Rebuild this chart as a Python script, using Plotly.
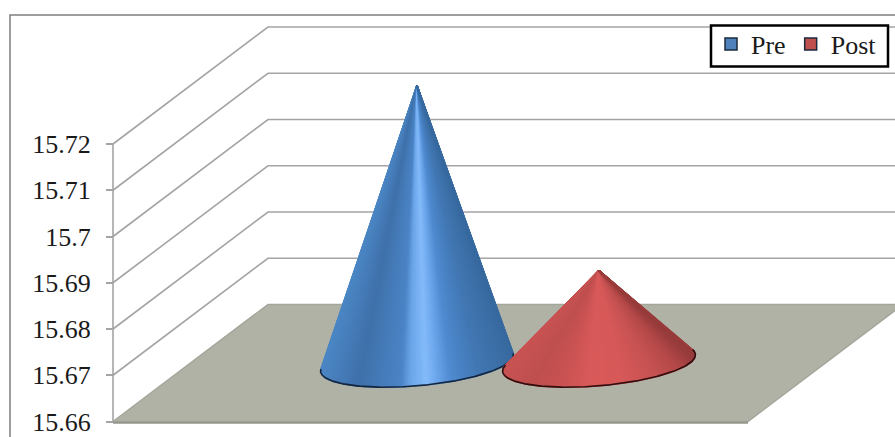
import math
import plotly.graph_objects as go

# ---- data ----
SERIES = ["Pre", "Post"]
VALUES = [15.72, 15.68]
TICK_VALUES = [15.66, 15.67, 15.68, 15.69, 15.70, 15.71, 15.72]
TICK_LABELS = ["15.66", "15.67", "15.68", "15.69", "15.7", "15.71", "15.72"]

# ---- geometry of the oblique 3-D box (x in chart units, depth in value units) ----
W, H = 895, 437
V0 = 15.66
PX_PER_UNIT = 46.25 / 0.01
Y0_PX = 421.5
AX_X = 113
FRONT_W = 635
DEPTH_X = 155
DEPTH_V = 117 / PX_PER_UNIT
FLOOR_MID_X = AX_X + FRONT_W / 2 + DEPTH_X / 2
CONE_OFFSET = 91
CONE_A = 91
CONE_B = 0.207
V_BOTTOM = V0 - (H - Y0_PX) / PX_PER_UNIT
V_TOP = V_BOTTOM + H / PX_PER_UNIT

GRID = "#a4a4a4"
BLUE = [(0, "#4b86c4"), (.12, "#4479b5"), (.2, "#3f71aa"), (.42, "#4b84c6"), (.47, "#6ba6ea"),
        (.55, "#84bbfa"), (.6, "#6fa9ee"), (.68, "#4f8ad0"), (.82, "#4278b4"), (1, "#386a9f")]
RED = [(0, "#c85353"), (.15, "#bf4f4f"), (.3, "#c95252"), (.45, "#d95a5a"), (.62, "#d85959"),
       (.8, "#c65252"), (.92, "#b44848"), (1, "#963a3a")]
RIMS = ["#14263e", "#300e0e"]


def shade(stops, u):
    for (a, ca), (b, cb) in zip(stops, stops[1:]):
        if u <= b:
            f = (u - a) / (b - a)
            rgb = [round(int(ca[i:i + 2], 16) * (1 - f) + int(cb[i:i + 2], 16) * f) for i in (1, 3, 5)]
            return "rgb(%d,%d,%d)" % tuple(rgb)
    return stops[-1][1]


fig = go.Figure()

# wall grid lines
for v in TICK_VALUES[1:]:
    fig.add_trace(go.Scatter(x=[AX_X, AX_X + DEPTH_X, W + 10], y=[v, v + DEPTH_V, v + DEPTH_V], mode="lines",
                             line=dict(color=GRID, width=1.6), showlegend=False, hoverinfo="skip"))
# floor
fig.add_trace(go.Scatter(
    x=[AX_X, AX_X + DEPTH_X, AX_X + DEPTH_X + FRONT_W, AX_X + FRONT_W, AX_X],
    y=[V0, V0 + DEPTH_V, V0 + DEPTH_V, V0, V0], mode="lines", fill="toself", fillcolor="#b1b2a6",
    line=dict(color="#a5a69b", width=1.5), showlegend=False, hoverinfo="skip"))
fig.add_trace(go.Scatter(x=[AX_X, AX_X + FRONT_W], y=[V0 - 1.2 / PX_PER_UNIT] * 2, mode="lines",
                         line=dict(color="#96968c", width=2), showlegend=False, hoverinfo="skip"))
# value axis line
fig.add_trace(go.Scatter(x=[AX_X, AX_X], y=[TICK_VALUES[0], TICK_VALUES[-1]], mode="lines",
                         line=dict(color=GRID, width=1.6), showlegend=False, hoverinfo="skip"))

# cones
for i, (val, stops, rim) in enumerate(zip(VALUES, [BLUE, RED], RIMS)):
    cx = FLOOR_MID_X + (i * 2 - 1) * CONE_OFFSET
    cv = V0 + DEPTH_V / 2
    tip_x, tip_v = cx, cv + (val - V0)
    n = 720
    pts = []
    for k in range(n):
        t = 2 * math.pi * k / n
        px = cx + CONE_A * math.cos(t) + CONE_B * DEPTH_X * math.sin(t)
        pv = cv + CONE_B * DEPTH_V * math.sin(t)
        pts.append((px, pv))
    slope = [(p[0] - tip_x) / ((tip_v - p[1]) * PX_PER_UNIT) for p in pts]
    right = max(range(n), key=lambda k: slope[k])
    left = min(range(n), key=lambda k: slope[k])
    # walk from the left tangent round the front (lowest) side to the right tangent
    arc = []
    k = left
    while True:
        arc.append(pts[k])
        if k == right:
            break
        k = (k + 1) % n
    if min(p[1] for p in arc) > cv - CONE_B * DEPTH_V * 0.9:
        arc = []
        k = left
        while True:
            arc.append(pts[k])
            if k == right:
                break
            k = (k - 1) % n
    xmin = min(p[0] for p in pts)
    xmax = max(p[0] for p in pts)
    step = 3
    for j in range(0, len(arc) - 1, step):
        a, b = arc[j], arc[min(j + step, len(arc) - 1)]
        u = ((a[0] + b[0]) / 2 - xmin) / (xmax - xmin)
        c = shade(stops, min(max(u, 0), 1))
        fig.add_trace(go.Scatter(x=[tip_x, a[0], b[0], tip_x], y=[tip_v, a[1], b[1], tip_v], mode="lines",
                                 fill="toself", fillcolor=c, line=dict(color=c, width=1.4),
                                 showlegend=False, hoverinfo="skip"))
    fig.add_trace(go.Scatter(x=[p[0] for p in arc], y=[p[1] for p in arc], mode="lines",
                             line=dict(color=rim, width=1.6), showlegend=False, hoverinfo="skip"))

# legend entries
for name, col in zip(SERIES, ["#4f81bd", "#c0504d"]):
    fig.add_trace(go.Scatter(x=[None], y=[None], mode="markers", name=name,
                             marker=dict(symbol="square", size=12, color=col, line=dict(color="#1a2a3a", width=1.5))))

fig.update_layout(
    width=W, height=H, margin=dict(l=0, r=0, t=0, b=0, autoexpand=False),
    paper_bgcolor="white", plot_bgcolor="rgba(0,0,0,0)",
    font=dict(family="Liberation Serif", size=26, color="#1a1a1a"),
    xaxis=dict(range=[0, W], visible=False, domain=[0, 1]),
    yaxis=dict(range=[V_BOTTOM, V_TOP], anchor="free", position=AX_X / W, showgrid=False, zeroline=False,
               tickmode="array", tickvals=TICK_VALUES, ticktext=TICK_LABELS, ticks="outside", ticklen=7,
               tickcolor=GRID, tickwidth=1.6, ticklabelstandoff=10, showline=False,
               tickfont=dict(family="Liberation Serif", size=26, color="#1a1a1a")),
    legend=dict(orientation="h", x=882 / W, xanchor="right", y=1 - 20.5 / H, yanchor="top",
                bgcolor="rgba(0,0,0,0)", borderwidth=0, itemwidth=30,
                font=dict(family="Liberation Serif", size=26, color="#1a1a1a")),
    shapes=[dict(type="rect", xref="x", yref="paper", x0=10, x1=W + 20, y0=-0.1, y1=1 - 15 / H,
                 line=dict(color="#7f7f7f", width=1.5), layer="below"),
            dict(type="rect", xref="x", yref="paper", x0=711, x1=888, y0=1 - 66.5 / H, y1=1 - 25.5 / H,
                 fillcolor="white", line=dict(color="black", width=2.5), layer="above")],
    showlegend=True,
)
fig.write_html("out.html", config={"displayModeBar": False},
               post_script="document.body.style.margin='0';document.documentElement.style.overflow='hidden';")
